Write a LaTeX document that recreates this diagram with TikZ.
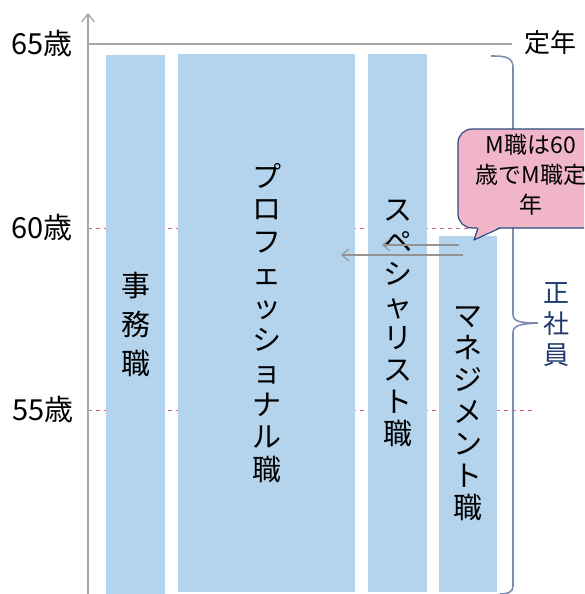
\documentclass[tikz,border=0pt]{standalone}
\usepackage{fontspec}
\setmainfont{Noto Sans CJK JP}
\usetikzlibrary{arrows.meta}
\definecolor{barblue}{HTML}{B3D4EC}
\definecolor{axisgray}{HTML}{A6A6A6}
\definecolor{dashpink}{HTML}{E0607F}
\definecolor{callpink}{HTML}{F0B6C7}
\definecolor{callborder}{HTML}{2F4A80}
\definecolor{bracecol}{HTML}{7C8DB0}
\definecolor{navy}{HTML}{1F3A70}
\begin{document}
\begin{tikzpicture}[x=1pt,y=-1pt,
  bar/.style={fill=barblue, draw=none, inner sep=0pt, align=center, text=black},
  agelabel/.style={anchor=east, inner sep=0pt, font=\fontsize{29}{32}\selectfont},
  axisline/.style={draw=axisgray, line width=1.4pt},
  guideline/.style={draw=dashpink, line width=0.8pt, dash pattern=on 4pt off 4pt},
  movearrow/.style={draw=gray!85, line width=1.1pt, -{Straight Barb[length=7pt,width=12pt]}},
  callout/.style={fill=callpink, draw=callborder, line width=1.2pt, rounded corners=14pt}]
\useasboundingbox (0,0) rectangle (584,594);
\clip (0,0) rectangle (584,594);

% guide dashed lines (behind bars)
\coordinate (g60s) at (88,228);
\coordinate (g60e) at (472,228);
\coordinate (g55s) at (88,410);
\coordinate (g55e) at (535,410);
\draw[guideline] (g60s) -- (g60e);
\draw[guideline] (g55s) -- (g55e);

% bars
\node[bar, minimum width=59pt, minimum height=539pt, font=\fontsize{29}{39}\selectfont] (jimu) at (135.5,324.5) {事\\務\\職};
\node[bar, minimum width=177pt, minimum height=538pt, font=\fontsize{29}{32.6}\selectfont] (pro) at (266.5,323) {プ\\ロ\\フ\\ェ\\ッ\\シ\\ョ\\ナ\\ル\\職};
\node[bar, minimum width=59pt, minimum height=538pt, font=\fontsize{29}{32}\selectfont] (spec) at (397.5,323) {ス\\ペ\\シ\\ャ\\リ\\ス\\ト\\職};
\node[bar, minimum width=58pt, minimum height=356pt, font=\fontsize{29}{32}\selectfont] (mgmt) at (468,414) {マ\\ネ\\ジ\\メ\\ン\\ト\\職};

% axis
\coordinate (ybot) at (88,596);
\coordinate (ytop) at (88,13);
\draw[axisline, -{Straight Barb[length=8pt,width=13pt]}, line width=1.3pt] (ybot) -- (ytop);
\coordinate (l65s) at (88,44);
\coordinate (l65e) at (512,44);
\draw[axisline] (l65s) -- (l65e);

% age labels
\node[agelabel] (a65) at (73,44) {65歳};
\node[agelabel] (a60) at (73,228) {60歳};
\node[agelabel] (a55) at (74,410) {55歳};
\node[anchor=west, inner sep=0pt, font=\fontsize{26}{28}\selectfont] (teinen) at (524,43) {定年};

% brace
\coordinate (bt) at (491,56);
\coordinate (btip) at (538,323);
\coordinate (bb) at (500,594);
\draw[draw=bracecol, line width=1.6pt]
  (bt) .. controls (506,56) and (513,57) .. (513,68)
  -- (513,314) .. controls (513,321) and (518,323) .. (btip)
  .. controls (518,324) and (513,326) .. (513,333)
  -- (513,586) .. controls (513,592) and (508,594) .. (bb);
\node[inner sep=0pt, align=center, text=navy, font=\fontsize{26}{31}\selectfont] (seishain) at (556,325) {正\\社\\員};

% arrows
\coordinate (ar1s) at (459,245);
\coordinate (ar1e) at (382,245);
\coordinate (ar2s) at (463,255);
\coordinate (ar2e) at (341,255);
\draw[movearrow] (ar1s) -- (ar1e);
\draw[movearrow] (ar2s) -- (ar2e);

% callout
\draw[callout] (458,129) rectangle (604,228);
\coordinate (tailL) at (478,228);
\coordinate (tailtip) at (474,240);
\coordinate (tailR) at (500,228);
\fill[callpink] (477.5,226) -- (tailtip) -- (501,226) -- cycle;
\draw[draw=callborder, line width=1.2pt, line join=round] (tailL) -- (tailtip) -- (tailR);
\node[inner sep=0pt, align=center, font=\fontsize{23}{30}\selectfont] (calltext) at (531,175) {M職は60\\歳でM職定\\年};
\end{tikzpicture}
\end{document}
